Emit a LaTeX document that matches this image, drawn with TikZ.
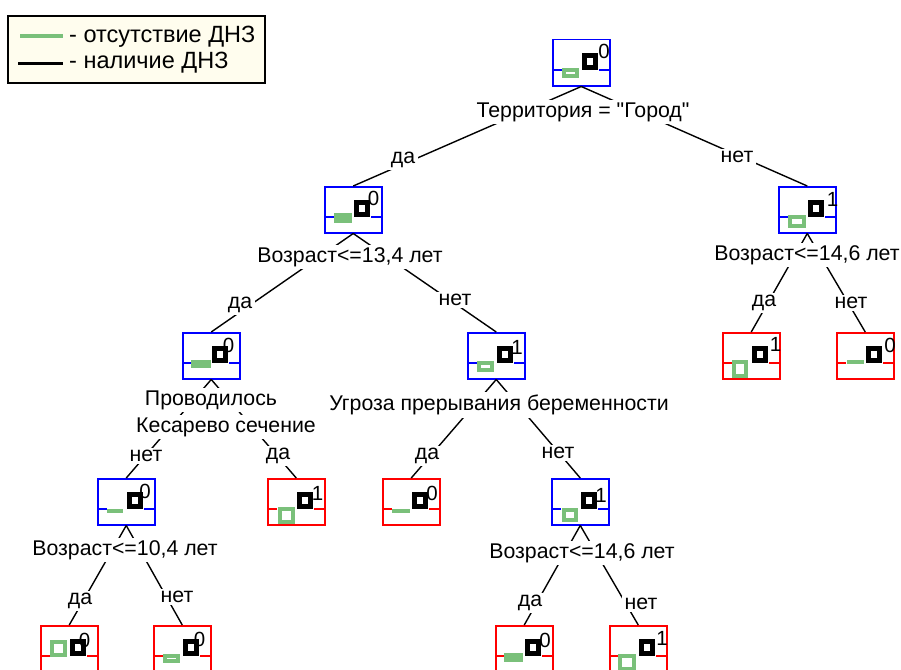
\documentclass[tikz,border=0pt]{standalone}
\usepackage{fontspec}
\setmainfont{Liberation Sans}[Ligatures=TeXOff]
\usetikzlibrary{calc}
\definecolor{gcol}{RGB}{122,192,122}
\definecolor{legfill}{RGB}{255,253,238}
\tikzset{
 tbx/.style={draw, line width=1.5pt, minimum width=57pt, minimum height=46pt, inner sep=0pt, anchor=north west},
 conn/.style={line width=1.4pt, black},
 lab/.style={fill=white, inner sep=2.5pt, font=\fontsize{21.3}{25}\selectfont},
 legtxt/.style={anchor=west, inner sep=0pt, font=\fontsize{23.5}{27}\selectfont},
 dig/.style={inner sep=0pt, font=\fontsize{20.5}{22}\selectfont},
 gline/.style={draw=gcol, line width=4pt},
 blk/.style={draw=black, line width=4.8pt},
}
\newcommand{\ghol}[4]{\draw[gline] (#1+2,#2+2) rectangle (#3-2,#4-2);}
\newcommand{\gsol}[4]{\fill[gcol] (#1,#2) rectangle (#3,#4);}
\newcommand{\dtbox}[8]{%
 \node[tbx, draw=#4] (#1) at (#2,#3) {};
 \begin{scope}[shift={(#2,#3)}]
  \draw[#4, line width=1.5pt] (0,31) -- (10,31) (47,31) -- (57,31);
  #8
  \draw[blk] (32.2,16.2) rectangle (43.8,28.8);
  \node[dig] at (#6,#7) {#5};
 \end{scope}}
\begin{document}
\begin{tikzpicture}[x=1pt,y=-1pt]
\useasboundingbox (0,0) rectangle (901,669);
% legend
\draw[fill=legfill, line width=1.2pt] (8,16) rectangle (265,83);
\draw[gcol, line width=4pt] (20,36) -- (63,36);
\draw[black, line width=3pt] (18,63) -- (63,63);
\node[legtxt] (lg1) at (69,37) {- отсутствие ДНЗ};
\node[legtxt] (lg2) at (69,63) {- наличие ДНЗ};
% boxes
\dtbox{root}{552}{39}{blue}{0}{52}{12.5}{\ghol{10}{29}{27}{39}}
\dtbox{a}{324}{186}{blue}{0}{49.5}{12.5}{\gsol{10}{27}{28}{37}}
\dtbox{b}{778}{186}{blue}{1}{54.5}{13.5}{\ghol{10}{29}{28}{42}}
\dtbox{aa}{182}{332}{blue}{0}{46.5}{13}{\gsol{9}{28}{29}{36}}
\dtbox{ab}{467}{332}{blue}{1}{50}{15}{\ghol{10}{29}{27}{40}}
\dtbox{ba}{722}{332}{red}{1}{53.5}{12}{\ghol{10}{28}{26}{46}}
\dtbox{bb}{836}{332}{red}{0}{54}{13}{\gsol{11}{28}{28}{32}}
\dtbox{aaa}{97}{478}{blue}{0}{48}{13}{\gsol{10}{31}{26}{35}}
\dtbox{aab}{267}{478}{red}{1}{50.5}{15}{\ghol{11}{29}{28}{46}}
\dtbox{aba}{382}{478}{red}{0}{50}{15}{\gsol{10}{31}{28}{35}}
\dtbox{abb}{551}{478}{blue}{1}{50}{17}{\ghol{11}{30}{27}{44}}
\dtbox{aaaa}{40}{625}{red}{0}{44.5}{15}{\ghol{10}{15}{27}{32}}
\dtbox{aaab}{153}{625}{red}{0}{46.5}{14.5}{\ghol{10}{29}{27}{38}}
\dtbox{abba}{495}{625}{red}{0}{50}{15}{\gsol{9}{28}{28}{37}}
\dtbox{abbb}{609}{625}{red}{1}{53}{13}{\ghol{9}{29}{27}{46}}
% connectors
\draw[conn] (root.south) -- (a.north);
\draw[conn] (root.south) -- (b.north);
\draw[conn] (a.south) -- (aa.north);
\draw[conn] (a.south) -- (ab.north);
\draw[conn] (b.south) -- (ba.north);
\draw[conn] (b.south) -- (bb.north);
\draw[conn] (aa.south) -- (aaa.north);
\draw[conn] (aa.south) -- (aab.north);
\draw[conn] (ab.south) -- (aba.north);
\draw[conn] (ab.south) -- (abb.north);
\draw[conn] (aaa.south) -- (aaaa.north);
\draw[conn] (aaa.south) -- (aaab.north);
\draw[conn] (abb.south) -- (abba.north);
\draw[conn] (abb.south) -- (abbb.north);
% labels
\node[lab] (t0) at (583,112) {Территория = "Город"};
\node[lab] (e1) at (403,160) {да};
\node[lab] (e2) at (737,157) {нет};
\node[lab] (t1) at (350,257) {Возраст<=13,4 лет};
\node[lab] (t2) at (807,255) {Возраст<=14,6 лет};
\node[lab] (e3) at (240,305) {да};
\node[lab] (e4) at (455,300) {нет};
\node[lab] (e5) at (764,303) {да};
\node[lab] (e6) at (851,303) {нет};
\node[lab] (t3a) at (211,400) {Проводилось};
\node[lab] (t3b) at (226,427) {Кесарево сечение};
\node[lab] (t4) at (499,405) {Угроза прерывания беременности};
\node[lab] (e7) at (146,456) {нет};
\node[lab] (e8) at (278,456) {да};
\node[lab] (e9) at (427,456) {да};
\node[lab] (e10) at (558,453) {нет};
\node[lab] (t5) at (125,550) {Возраст<=10,4 лет};
\node[lab] (t6) at (582,553) {Возраст<=14,6 лет};
\node[lab] (e11) at (80,601) {да};
\node[lab] (e12) at (177,597) {нет};
\node[lab] (e13) at (530,603) {да};
\node[lab] (e14) at (641,604) {нет};
\end{tikzpicture}
\end{document}
